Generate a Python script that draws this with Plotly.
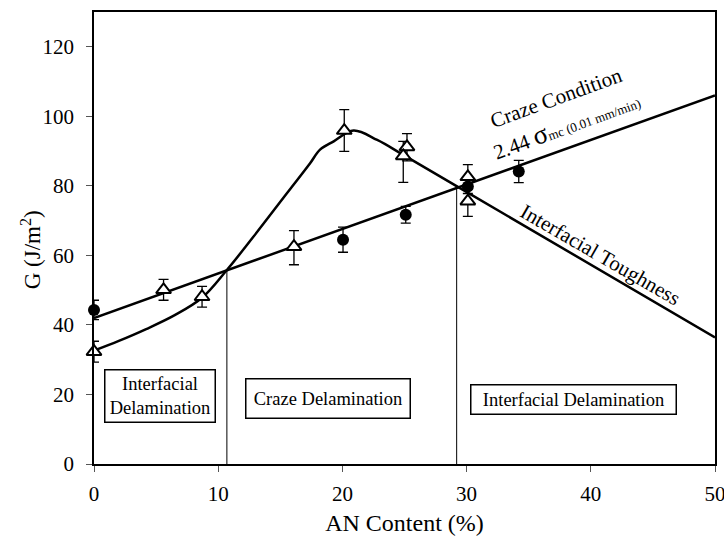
import plotly.graph_objects as go

# ---- data ----
craze_x = [0, 50]
craze_y = [42.0, 106.0]

tough_x = [0, 2, 4.2, 6.5, 8.7, 10.7, 12.8, 15.5, 17.4, 18.2, 19.3, 20.9, 22.8, 24.9, 29.4, 50]
tough_y = [32.6, 35.4, 38.8, 42.8, 47.8, 55.8, 65.2, 77.7, 86.5, 90.4, 92.8, 95.9, 93.2, 88.9, 79.5, 36.4]

tri_x = [0, 5.6, 8.7, 16.1, 20.15, 25.2, 24.9, 30.1, 30.1]
tri_y = [32.3, 50.1, 48.1, 62.5, 95.9, 91.2, 88.6, 82.6, 75.6]
tri_err_plus = [3.0, 3.0, 3.0, 4.6, 6.0, 3.8, 4.2, 3.5, 4.2]
tri_err_minus = [3.0, 3.0, 3.0, 5.2, 6.0, 4.0, 7.6, 3.5, 4.4]

circ_x = [0, 20.05, 25.1, 30.1, 34.2]
circ_y = [44.3, 64.5, 71.7, 79.8, 84.1]
circ_err = [2.8, 3.6, 2.4, 2.0, 3.2]

boundary_x = [10.7, 29.2]
boundary_top = [55.7, 79.4]

x_ticks = [0, 10, 20, 30, 40, 50]
y_ticks = [0, 20, 40, 60, 80, 100, 120]

FONT = "Liberation Serif"

fig = go.Figure()

# region boundaries
bx, by = [], []
for xv, top in zip(boundary_x, boundary_top):
    bx += [xv, xv, None]
    by += [0, top, None]
fig.add_trace(go.Scatter(x=bx, y=by, mode="lines",
                         line=dict(color="black", width=1), hoverinfo="skip"))

fig.add_trace(go.Scatter(x=craze_x, y=craze_y, mode="lines",
                         line=dict(color="black", width=2.5)))
fig.add_trace(go.Scatter(x=tough_x, y=tough_y, mode="lines",
                         line=dict(color="black", width=2.5, shape="spline", smoothing=1.0)))

fig.add_trace(go.Scatter(
    x=circ_x, y=circ_y, mode="markers",
    marker=dict(symbol="circle", size=12, color="black"),
    error_y=dict(type="data", array=circ_err, color="black", thickness=1.3, width=5),
    cliponaxis=False))

fig.add_trace(go.Scatter(
    x=tri_x, y=tri_y, mode="markers",
    marker=dict(symbol="triangle-up", size=13, color="white",
                line=dict(color="black", width=2)),
    error_y=dict(type="data", symmetric=False, array=tri_err_plus,
                 arrayminus=tri_err_minus, color="black", thickness=1.3, width=5),
    cliponaxis=False))

box_font = dict(family=FONT, size=18.5, color="black")
fig.add_annotation(x=5.35, y=19.6, text="Interfacial<br>Delamination", showarrow=False,
                   font=box_font, bordercolor="black", borderwidth=1.5, borderpad=1,
                   width=107, height=49, bgcolor="white")
fig.add_annotation(x=18.86, y=18.9, text="Craze Delamination", showarrow=False,
                   font=box_font, bordercolor="black", borderwidth=1.5, borderpad=1,
                   width=161, height=36, bgcolor="white")
fig.add_annotation(x=38.63, y=18.6, text="Interfacial Delamination", showarrow=False,
                   font=box_font, bordercolor="black", borderwidth=1.5, borderpad=1,
                   width=202, height=26, bgcolor="white")

fig.add_annotation(x=37.2, y=105.3, text="Craze Condition", showarrow=False,
                   textangle=-20, font=dict(family=FONT, size=21, color="black"))
fig.add_annotation(x=38.0, y=97.6,
                   text="2.44 <span style='font-size:27px'>σ</span><span style='font-size:13px'>mc (0.01 mm/min)</span>",
                   showarrow=False, textangle=-20,
                   font=dict(family=FONT, size=21, color="black"))
fig.add_annotation(x=40.8, y=60.1, text="Interfacial Toughness", showarrow=False,
                   textangle=30, font=dict(family=FONT, size=21, color="black"))

# y-axis title placed as annotation to control its position
fig.add_annotation(xref="paper", yref="paper", x=-0.1015, y=0.475,
                   xanchor="center", yanchor="middle",
                   text="G (J/m<sup>2</sup>)", showarrow=False, textangle=-90,
                   font=dict(family=FONT, size=23, color="black"))

fig.update_layout(
    width=724, height=536,
    margin=dict(l=94, r=9, t=12, b=72),
    paper_bgcolor="white", plot_bgcolor="white",
    showlegend=False,
    font=dict(family=FONT, size=21, color="black"),
    xaxis=dict(range=[0, 50], tickvals=x_ticks, ticks="outside", ticklen=6,
               tickcolor="#555", showgrid=False, zeroline=False, automargin=False,
               ticklabeloverflow="allow",
               showline=True, linecolor="black", linewidth=1.5, mirror=True,
               ticklabelstandoff=4,
               title=dict(text="AN Content (%)", font=dict(family=FONT, size=24), standoff=10)),
    yaxis=dict(range=[0, 130], tickvals=y_ticks, ticks="outside", ticklen=6,
               tickcolor="#555", showgrid=False, zeroline=False, automargin=False,
               ticklabeloverflow="allow",
               showline=True, linecolor="black", linewidth=1.5, mirror=True,
               ticklabelstandoff=8),
)

fig.write_html("out.html")
